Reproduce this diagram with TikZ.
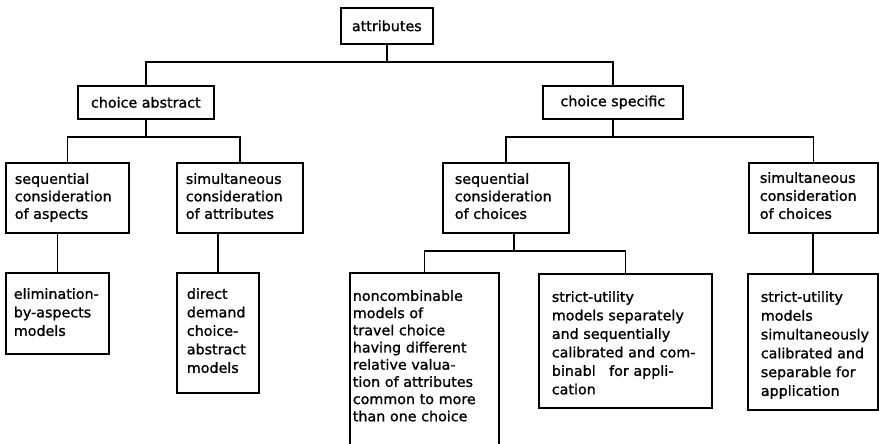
\documentclass[tikz,border=0pt]{standalone}
\usepackage{fontspec}
\setmainfont{DejaVu Sans}[FakeStretch=1.02, FakeBold=1.2]

\begin{document}
\begin{tikzpicture}[x=1pt, y=-1pt, line width=1.7pt,
        every node/.style={font=\fontsize{14}{17.5}\selectfont},
        hd/.style={draw, anchor=north west, inner sep=0pt, minimum height=33pt},
        bx/.style={draw, anchor=north west, align=left, inner ysep=0pt}]
        \useasboundingbox (0,0) rectangle (879,444);

        \node[hd, minimum width=92pt, minimum height=36pt] (attr) at (340,7) {attributes};
        \node[hd, minimum width=136pt] (abs) at (77,85) {choice abstract};
        \node[hd, minimum width=140pt] (spec) at (542,85) {choice specific};

        \node[bx, text width=105pt, inner xsep=9pt, text height=21pt, text depth=49pt] (aspects) at (5,162) {sequential\\consideration\\of aspects};
        \node[bx, text width=108pt, inner xsep=9pt, text height=21pt, text depth=49pt] (simattr) at (176,162) {simultaneous\\consideration\\of attributes};
        \node[bx, text width=102pt, inner xsep=12pt, text height=21pt, text depth=49pt] (seqch) at (442,162) {sequential\\consideration\\of choices};
        \node[bx, text width=107pt, inner xsep=11pt, font=\fontsize{14}{18}\selectfont, text height=20pt, text depth=50pt] (simch) at (748,162) {simultaneous\\consideration\\of choices};

        \node[bx, text width=87pt, inner xsep=8pt, font=\fontsize{14}{18.5}\selectfont, text height=26pt, text depth=55pt] (elim) at (5,272) {elimination-\\by-aspects\\models};
        \node[bx, text width=62pt, inner xsep=10pt, font=\fontsize{14}{18.5}\selectfont, text height=26pt, text depth=94pt] (direct) at (176,272) {direct\\demand\\choice-\\abstract\\models};
        \node[bx, text width=143pt, inner xsep=3pt, font=\fontsize{14}{17.2}\selectfont, text height=28pt, text depth=164pt] (noncomb) at (349,272) {noncombinable\\models of\\travel choice\\having different\\relative valua-\\tion of attributes\\common to more\\than one choice};
        \node[bx, text width=147pt, inner xsep=13pt, font=\fontsize{14}{18.5}\selectfont, text height=28pt, text depth=106pt] (strictsep) at (538,273) {strict-utility\\models~separately\\and~sequentially\\calibrated~and~com-\\binabl\hphantom{e}~for~appli-\\cation};
        \node[bx, text width=104pt, inner xsep=13pt, font=\fontsize{14}{18.8}\selectfont, text height=28pt, text depth=108pt] (strictsim) at (747,273) {strict-utility\\models\\simultaneously\\calibrated~and\\separable~for\\application};

        \draw (attr.south) -- ++(0,17) coordinate (j1);
        \draw (abs.north) |- (j1) -| (spec.north);
        \draw (abs.south) -- ++(0,17) coordinate (j2);
        \draw (aspects.north) |- (j2) -| (simattr.north);
        \draw (spec.south) -- ++(0,17) coordinate (j3);
        \draw (seqch.north) |- (j3) -| (simch.north);
        \draw (seqch.south) ++(8,0) -- ++(0,17) coordinate (j4);
        \draw (noncomb.north) |- (j4) -| (strictsep.north);
        \draw (elim.north) -- (elim.north |- aspects.south);
        \draw (direct.north) -- (direct.north |- simattr.south);
        \draw (strictsim.north) -- (strictsim.north |- simch.south);
    \end{tikzpicture}
\end{document}
